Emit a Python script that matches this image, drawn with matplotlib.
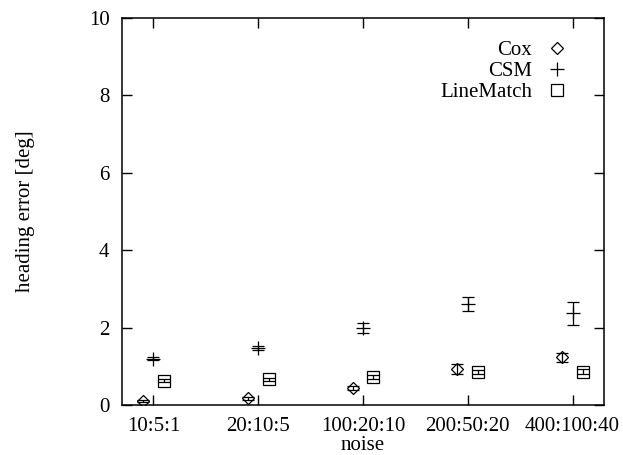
import numpy as np
import matplotlib
matplotlib.use("Agg")
import matplotlib.pyplot as plt

# noise levels on the x axis
noise = ["10:5:1", "20:10:5", "100:20:10", "200:50:20", "400:100:40"]

# mean heading error [deg] and its spread, per method
cox = [0.11, 0.17, 0.43, 0.93, 1.23]
cox_err = [0.03, 0.03, 0.05, 0.14, 0.12]
csm = [1.20, 1.48, 1.98, 2.62, 2.37]
csm_err = [0.04, 0.05, 0.13, 0.18, 0.29]
linematch = [0.63, 0.66, 0.73, 0.86, 0.86]
linematch_err = [0.04, 0.04, 0.05, 0.05, 0.06]

plt.rcParams['font.family'] = ['Liberation Serif', 'DejaVu Serif']
plt.rcParams['font.size'] = 15

fig = plt.figure(figsize=(6.23, 4.55), dpi=100)
ax = fig.add_axes([0.1958, 0.1099, 0.9695 - 0.1958, 0.9604 - 0.1099])

x = np.arange(len(noise))
kw = dict(color='black', ecolor='black', elinewidth=0.9, capsize=4, capthick=0.9,
          linestyle='none', markerfacecolor='none', markeredgecolor='black',
          markeredgewidth=0.9)

ax.errorbar(x - 0.1, cox, yerr=cox_err, marker='D', markersize=6.5, label='Cox', **kw)
ax.errorbar(x, csm, yerr=csm_err, marker='+', markersize=10, label='CSM', **kw)
ax.errorbar(x + 0.1, linematch, yerr=linematch_err, marker='s', markersize=8,
            label='LineMatch', **kw)

ax.set_xlim(-0.3, 4.3)
ax.set_ylim(0, 10)
ax.set_xticks(x)
ax.set_xticklabels(noise)
ax.set_yticks(range(0, 11, 2))
ax.tick_params(direction='in', top=True, right=True, length=7, width=1.0, pad=9)
for s in ax.spines.values():
    s.set_linewidth(1.1)

ax.set_xlabel("noise", labelpad=0)
ax.set_ylabel("heading error [deg]", labelpad=39)

# gnuplot style key: text left of the symbol, no frame
handles, labels = ax.get_legend_handles_labels()
handles = [h[0] for h in handles]
leg = ax.legend(handles, labels, loc='upper right', frameon=False,
                markerfirst=False, handlelength=0.8, handletextpad=0.8,
                labelspacing=0.07, borderaxespad=0.3, bbox_to_anchor=(0.95, 0.98))
for t in leg.get_texts():
    t.set_ha('right')

fig.savefig("out.png", dpi=100)
